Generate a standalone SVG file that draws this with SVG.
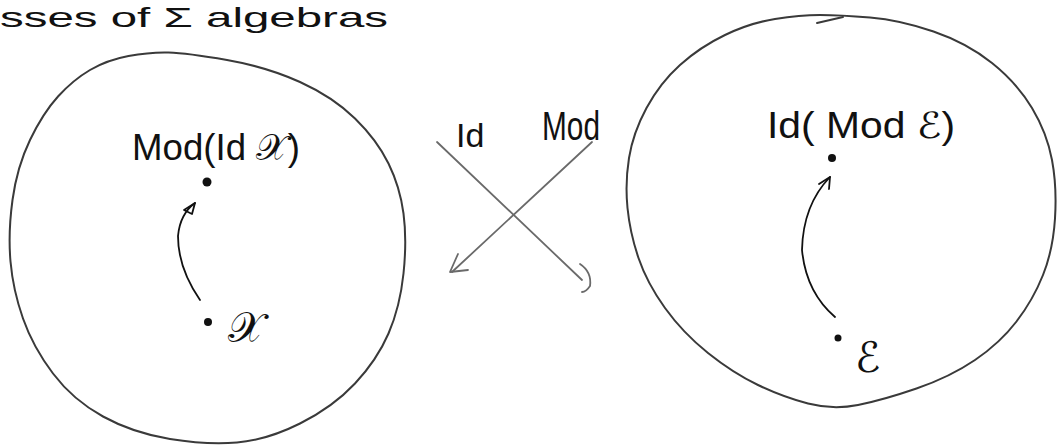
<svg xmlns="http://www.w3.org/2000/svg" width="1060" height="446" viewBox="0 0 1060 446">
<style>
.blob{fill:none;stroke:#3a3a3a;stroke-width:2;stroke-linecap:round;stroke-linejoin:round}
.conn{fill:none;stroke:#6a6a6a;stroke-width:1.8;stroke-linecap:round;stroke-linejoin:round}
.arr{fill:none;stroke:#111;stroke-width:1.8;stroke-linecap:round;stroke-linejoin:round}
.lbl{font-family:"Liberation Sans","DejaVu Sans",sans-serif;fill:#111}
.scr{font-family:"DejaVu Sans","Noto Sans",serif;fill:#111}
.dot{fill:#111}
</style>
<text class="lbl" x="0" y="27" font-size="28" textLength="388" lengthAdjust="spacingAndGlyphs">sses of Σ algebras</text>
<g id="left-class">
<path class="blob" d="M128.5,56 Q150,52 168.5,52.5 Q187,53 227,60 Q267,67 300,82 Q333,97 355,118.5 Q377,140 388.5,163.5 Q400,187 403.5,213.5 Q407,240 403.5,273.5 Q400,307 388.5,333.5 Q377,360 355,383.5 Q333,407 300,423.5 Q267,440 237,442.5 Q207,445 170,439 Q133,433 103,416.5 Q73,400 53,373.5 Q33,347 23,318.5 Q13,290 10.5,261.5 Q8,233 12.5,200 Q17,167 30,140 Q43,113 58,96.5 Q73,80 90,70 Q107,60 128.5,56 Z"/>
</g>
<g id="node-mod-id-x">
<text class="lbl" x="132" y="160" font-size="36" textLength="168" lengthAdjust="spacingAndGlyphs">Mod(Id 𝒳)</text>
<circle class="dot" cx="207" cy="182" r="4.5"/>
</g>
<g id="node-x">
<circle class="dot" cx="208" cy="322" r="4"/>
<text class="scr" x="228" y="342" font-size="42">𝒳</text>
</g>
<g id="right-class">
<path class="blob" d="M870,17.5 Q900,20 933.5,31.5 Q967,43 992,63 Q1017,83 1032,108 Q1047,133 1052,160 Q1057,187 1055,218.5 Q1053,250 1043,275 Q1033,300 1016.5,321.5 Q1000,343 975,360 Q950,377 916.5,388.5 Q883,400 858,405 Q833,410 808,403.5 Q783,397 758,385 Q733,373 708,353 Q683,333 665,308 Q647,283 638.5,258 Q630,233 627.5,208 Q625,183 629,158 Q633,133 646.5,108 Q660,83 680,65 Q700,47 725,35 Q750,23 775,19 Q800,15 820,15 Q840,15 870,17.5 Z"/>
<path class="blob" d="M817,23 L843,17"/>
</g>
<g id="node-id-mod-e">
<text class="lbl" x="767" y="138" font-size="36" textLength="188" lengthAdjust="spacingAndGlyphs">Id( Mod ℰ)</text>
<circle class="dot" cx="832" cy="158" r="4"/>
</g>
<g id="node-e">
<circle class="dot" cx="838" cy="338" r="3.5"/>
<text class="scr" x="855" y="372" font-size="42">ℰ</text>
</g>
<g id="connectors">
<path class="arr" d="M200,300 Q178,268 178,236 Q180,214 195,203"/>
<path class="arr" d="M184,210 L195,203 L192,214 Z"/>
<path class="arr" d="M835,317 Q806,292 802,250 Q803,205 830,177"/>
<path class="arr" d="M819,184 L830,177 L829,189"/>
<path class="conn" d="M437,142 L582,280"/>
<path class="conn" d="M580,264 Q592,272 590,286 Q586,292 582,292"/>
<path class="conn" d="M592,142 L452,272"/>
<path class="conn" d="M458,254 L450,272 L468,270"/>
<text class="lbl" x="456" y="147" font-size="34">Id</text>
<text class="lbl" x="542" y="140" font-size="40" textLength="58" lengthAdjust="spacingAndGlyphs">Mod</text>
</g>
</svg>
